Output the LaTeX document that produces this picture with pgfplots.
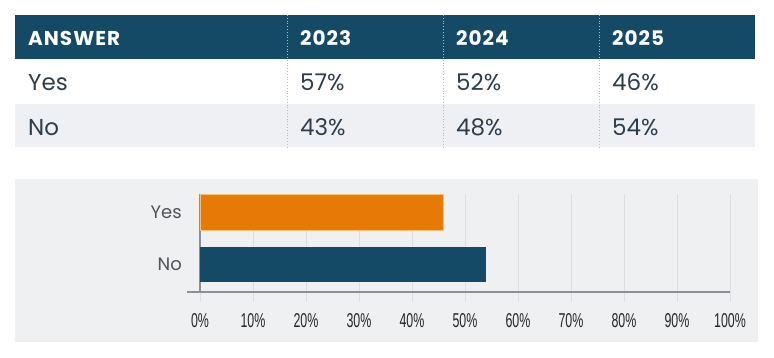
\documentclass[border=0pt]{standalone}
\usepackage{fontspec}
\setmainfont{Poppins}
\newfontfamily\hdrf[LetterSpace=5]{Poppins}
\newfontfamily\tickf{Liberation Sans}
\usepackage{graphicx}
\usepackage{pgfplots}
\pgfplotsset{compat=1.18}
\definecolor{navy}{HTML}{144A66}
\definecolor{barorange}{HTML}{E67A05}
\definecolor{orangeedge}{HTML}{F7C07A}
\definecolor{rowgray}{HTML}{EEF0F4}
\definecolor{panel}{HTML}{EFF0F2}
\definecolor{divc}{HTML}{B4BCC4}
\definecolor{bodytext}{HTML}{2E3D4C}
\definecolor{gridc}{HTML}{DCDEE2}
\definecolor{axisgray}{HTML}{8C9096}
\definecolor{lblgray}{HTML}{505458}
\newcommand{\sx}[1]{\scalebox{0.62}[1]{#1}}
\begin{document}
\begin{tikzpicture}[x=1pt,y=1pt]
\fill[white] (0,0) rectangle (774,-357);
% table
\fill[navy] (15,-15) rectangle (755,-59);
\fill[rowgray] (15,-104) rectangle (755,-147);
\foreach \x in {287,443,599} \draw[divc, dotted, line width=0.8pt] (\x,-15) -- (\x,-147);
\foreach \x/\t in {28/ANSWER,300/2023,456/2024,612/2025}
  \node[anchor=base west, inner sep=0pt, text=white, font=\hdrf\fontsize{20}{22}\selectfont\bfseries] at (\x,-45) {\t};
\foreach \x/\t in {28/Yes,300/57\%,456/52\%,612/46\%}
  \node[anchor=base west, inner sep=0pt, text=bodytext, font=\fontsize{23}{25}\selectfont] at (\x,-90.7) {\t};
\foreach \x/\t in {28/No,300/43\%,456/48\%,612/54\%}
  \node[anchor=base west, inner sep=0pt, text=bodytext, font=\fontsize{23}{25}\selectfont] at (\x,-135) {\t};
% chart panel
\fill[panel] (15,-179) rectangle (758,-342);
\begin{axis}[
  at={(200pt,-292pt)}, anchor=south west,
  scale only axis, width=530pt, height=98pt,
  xmin=0, xmax=100, ymin=0, ymax=98,
  axis x line*=bottom, axis y line*=left,
  x axis line style={-, draw=axisgray, line width=1.5pt, shorten <=-13pt},
  y axis line style={-, draw=axisgray, line width=1.2pt},
  xtick={0,10,...,100},
  xticklabels={\sx{0\%},\sx{10\%},\sx{20\%},\sx{30\%},\sx{40\%},\sx{50\%},\sx{60\%},\sx{70\%},\sx{80\%},\sx{90\%},\sx{100\%}},
  ytick={27.5,80}, yticklabels={No,Yes},
  ytick style={draw=none},
  xtick style={draw=gridc, line width=1pt},
  tick align=outside, major tick length=10pt,
  xmajorgrids, grid style={gridc, line width=1pt},
  yticklabel style={font=\fontsize{18}{20}\selectfont, text=lblgray, anchor=east, inner sep=0pt, xshift=-8pt},
  xticklabel style={font=\tickf\fontsize{20}{22}\selectfont, text=black!85, inner sep=0pt, yshift=-11pt},
]
\addplot[xbar, bar width=36pt, bar shift=0pt, fill=barorange, draw=orangeedge, line width=0.8pt] coordinates {(46,80)};
\addplot[xbar, bar width=35pt, bar shift=0pt, fill=navy, draw=none] coordinates {(54,27.5)};
\end{axis}
\end{tikzpicture}
\end{document}
